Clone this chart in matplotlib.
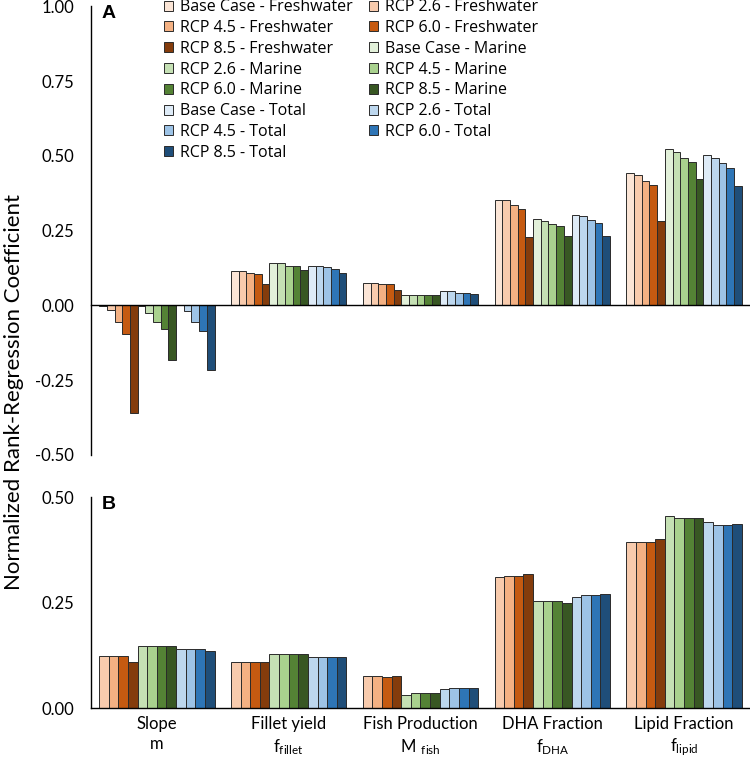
import matplotlib
matplotlib.use("Agg")
import matplotlib.pyplot as plt
import numpy as np

plt.rcParams['font.family'] = ['Lato', 'DejaVu Sans']

# categories
group_labels = ["Slope\nm",
                "Fillet yield\n$\\mathregular{f_{fillet}}$",
                "Fish Production\n$\\mathregular{M\\ _{fish}}$",
                "DHA Fraction\n$\\mathregular{f_{DHA}}$",
                "Lipid Fraction\n$\\mathregular{f_{lipid}}$"]
scenarios = ["Base Case", "RCP 2.6", "RCP 4.5", "RCP 6.0", "RCP 8.5"]
sources = ["Freshwater", "Marine", "Total"]

# panel A values, rows = scenario, columns = group
freshwater_a = [[-0.002, 0.114, 0.076, 0.351, 0.442],
                [-0.014, 0.114, 0.076, 0.351, 0.436],
                [-0.056, 0.110, 0.071, 0.337, 0.417],
                [-0.095, 0.104, 0.071, 0.322, 0.403],
                [-0.359, 0.072, 0.053, 0.228, 0.281]]
marine_a = [[-0.002, 0.142, 0.035, 0.290, 0.522],
            [-0.025, 0.142, 0.035, 0.281, 0.512],
            [-0.056, 0.133, 0.035, 0.271, 0.492],
            [-0.080, 0.133, 0.035, 0.265, 0.479],
            [-0.184, 0.119, 0.035, 0.233, 0.423]]
total_a = [[0.002, 0.133, 0.048, 0.304, 0.503],
           [-0.019, 0.133, 0.048, 0.299, 0.492],
           [-0.056, 0.129, 0.043, 0.285, 0.475],
           [-0.085, 0.123, 0.043, 0.275, 0.460],
           [-0.217, 0.110, 0.038, 0.233, 0.399]]

# panel B values (no base case)
freshwater_b = [[0.123, 0.108, 0.077, 0.311, 0.394],
                [0.123, 0.108, 0.077, 0.313, 0.394],
                [0.123, 0.108, 0.074, 0.313, 0.394],
                [0.108, 0.108, 0.077, 0.317, 0.400]]
marine_b = [[0.147, 0.127, 0.031, 0.253, 0.454],
            [0.147, 0.127, 0.035, 0.253, 0.450],
            [0.147, 0.127, 0.035, 0.253, 0.450],
            [0.147, 0.127, 0.035, 0.250, 0.450]]
total_b = [[0.140, 0.120, 0.044, 0.264, 0.440],
           [0.140, 0.120, 0.047, 0.267, 0.434],
           [0.140, 0.120, 0.047, 0.267, 0.434],
           [0.134, 0.120, 0.047, 0.270, 0.437]]

colors = {
    "Freshwater": ["#FBE5D6", "#F8CBAD", "#F4B183", "#C55A11", "#843C0C"],
    "Marine": ["#E2F0D9", "#C5E0B4", "#A9D18E", "#548235", "#385723"],
    "Total": ["#DEEBF7", "#BDD7EE", "#9DC3E6", "#2E75B6", "#1F4E79"],
}

group_width = 0.875
x = np.arange(len(group_labels))

fig = plt.figure(figsize=(7.5, 7.57), dpi=100)
ax_a = fig.add_axes([0.1213, 0.399, 0.8787, 0.5925])
ax_b = fig.add_axes([0.1213, 0.0647, 0.8787, 0.2787])


def draw_bars(ax, data, scen_idx):
    n = len(data) * len(scen_idx)
    w = group_width / n
    handles = []
    k = 0
    for src, block in zip(sources, data):
        for row, si in zip(block, scen_idx):
            offs = -group_width / 2 + w * (k + 0.5)
            h = ax.bar(x + offs, row, width=w, color=colors[src][si],
                       edgecolor="#2b2b2b", linewidth=0.7,
                       label=f"{scenarios[si]} - {src}", zorder=2)
            handles.append(h)
            k += 1
    return handles


handles = draw_bars(ax_a, [freshwater_a, marine_a, total_a], [0, 1, 2, 3, 4])
draw_bars(ax_b, [freshwater_b, marine_b, total_b], [1, 2, 3, 4])

for ax in (ax_a, ax_b):
    ax.set_xlim(-0.5, 4.5)
    for s in ("top", "right"):
        ax.spines[s].set_visible(False)
    ax.spines["left"].set_linewidth(1.0)
    ax.spines["bottom"].set_linewidth(1.0)
    ax.tick_params(axis="y", length=0, pad=12, labelsize=12)
    ax.yaxis.set_major_formatter(matplotlib.ticker.FormatStrFormatter("%.2f"))

ax_a.set_ylim(-0.5, 1.0)
ax_a.set_yticks(np.arange(-0.5, 1.01, 0.25))
ax_a.spines["bottom"].set_position(("data", 0))
ax_a.set_xticks([])

ax_b.set_ylim(0, 0.5)
ax_b.set_yticks([0, 0.25, 0.5])
ax_b.set_xticks(x)
ax_b.set_xticklabels(group_labels, fontsize=12, linespacing=1.3)
ax_b.tick_params(axis="x", length=0, pad=6)

ax_a.text(0.016, 0.985, "A", transform=ax_a.transAxes, fontsize=14,
          fontweight="bold", family="Liberation Sans", va="center")
ax_b.text(0.016, 0.965, "B", transform=ax_b.transAxes, fontsize=14,
          fontweight="bold", family="Liberation Sans", va="center")

fig.text(0.019, 1 - 392 / 757, "Normalized Rank-Regression Coefficient",
         rotation=90, ha="center", va="center", fontsize=16)

# legend filled row-wise in two columns
col1 = handles[0::2]
col2 = handles[1::2]
for hs, xpos in ((col1, 164 / 750), (col2, 369 / 750)):
    fig.legend(handles=hs, labels=[h.get_label() for h in hs],
               loc="upper left", bbox_to_anchor=(xpos, 1.001),
               frameon=False, prop={"family": "Open Sans", "size": 11.5},
               borderpad=0, borderaxespad=0,
               handlelength=0.58, handleheight=0.58, handletextpad=0.4,
               labelspacing=0.3)

fig.savefig("out.png", dpi=100)
